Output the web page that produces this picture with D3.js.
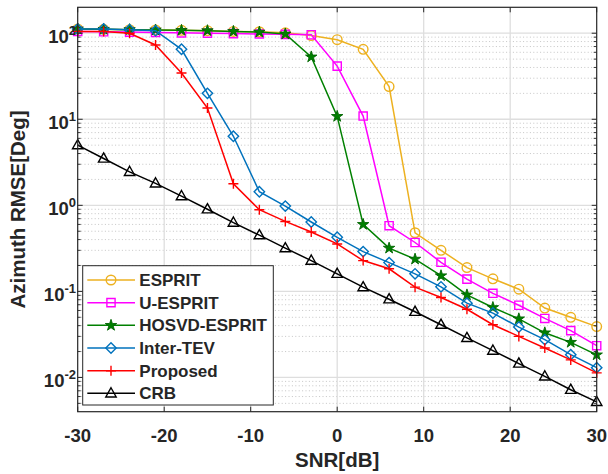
<!DOCTYPE html>
<html>
<head>
<meta charset="utf-8">
<script src="https://cdn.jsdelivr.net/npm/d3@7/dist/d3.min.js"></script>
<style>
  html, body { margin: 0; padding: 0; background: #fff; }
  svg { display: block; }
  text { font-family: "Liberation Sans", Arial, Helvetica, sans-serif; font-weight: bold; fill: #262626; }
</style>
</head>
<body>
<script>
// ---- data ----
const snr = [-30,-27,-24,-21,-18,-15,-12,-9,-6,-3,0,3,6,9,12,15,18,21,24,27,30];
const esprit   = [112,111,110,109,108,107,105,104,101,94,84,65,24,0.48,0.30,0.189,0.14,0.106,0.064,0.05,0.039];
const uEsprit  = [105,104,103,102,101,100,99,98,97,96,41.5,10.9,0.58,0.37,0.218,0.139,0.095,0.069,0.0485,0.035,0.0234];
const hosvd    = [112,111,110,109,108,107,105,103,98,53,10.8,0.60,0.318,0.237,0.152,0.091,0.065,0.048,0.033,0.0256,0.0183];
const interTev = [112,112,110,107,65,20,6.35,1.44,0.98,0.64,0.425,0.29,0.216,0.16,0.113,0.073,0.056,0.0385,0.0275,0.0184,0.013];
const proposed = [105,105,100,73,34.5,13.5,1.78,0.89,0.65,0.49,0.356,0.228,0.183,0.112,0.085,0.062,0.041,0.030,0.022,0.016,0.0113];
const crb      = [5.0,3.5,2.45,1.8,1.28,0.9,0.63,0.45,0.318,0.228,0.16,0.112,0.081,0.058,0.041,0.0288,0.0205,0.0145,0.0103,0.0072,0.0052];
const seriesNames = ["ESPRIT","U-ESPRIT","HOSVD-ESPRIT","Inter-TEV","Proposed","CRB"];
const xTicks = [-30,-20,-10,0,10,20,30];
const yTickExps = [-2,-1,0,1,2];

// ---- styles ----
const styles = [
  {color:"#EDB120", shape:"circle",   fill:"none"},
  {color:"#FF00FF", shape:"square",   fill:"none"},
  {color:"#008000", shape:"star",     fill:"#008000"},
  {color:"#0072BD", shape:"diamond",  fill:"none"},
  {color:"#FF0000", shape:"plus",     fill:"none"},
  {color:"#000000", shape:"triangle", fill:"none"}
];
const allSeries = [esprit, uEsprit, hosvd, interTev, proposed, crb];

const W = 608, H = 474;
const L = 77.7, R = 596.7, T = 7.3, B = 411.7;

const svg = d3.select("body").append("svg").attr("width", W).attr("height", H);
const x = d3.scaleLinear().domain([-30, 30]).range([L, R]);
const y = d3.scaleLog().domain([0.004, 200]).range([B, T]);

function markerPath(shape) {
  switch (shape) {
    case "circle": { const r = 4.8; return `M${r},0A${r},${r} 0 1,1 ${-r},0A${r},${r} 0 1,1 ${r},0Z`; }
    case "square": { const h = 4.1; return `M${-h},${-h}H${h}V${h}H${-h}Z`; }
    case "diamond": { const h = 5.2; return `M0,${-h}L${h},0L0,${h}L${-h},0Z`; }
    case "plus": { const h = 5; return `M${-h},0H${h}M0,${-h}V${h}`; }
    case "triangle": { return `M0,-5.6L5.2,3.6L-5.2,3.6Z`; }
    case "star": {
      const ro = 6, ri = ro * 0.382; let p = "";
      for (let i = 0; i < 10; i++) {
        const a = -Math.PI / 2 + i * Math.PI / 5;
        const r = i % 2 === 0 ? ro : ri;
        p += (i === 0 ? "M" : "L") + (r * Math.cos(a)).toFixed(2) + "," + (r * Math.sin(a)).toFixed(2);
      }
      return p + "Z";
    }
  }
}

// ---- grid ----
const grid = svg.append("g");
// minor y grid (dotted)
const minorVals = [];
for (let d = -3; d <= 2; d++) for (let m = 2; m <= 9; m++) {
  const v = m * Math.pow(10, d);
  if (v > 0.004 && v < 200) minorVals.push(v);
}
grid.selectAll("line.minor").data(minorVals).enter().append("line")
  .attr("x1", L).attr("x2", R).attr("y1", d => y(d)).attr("y2", d => y(d))
  .attr("stroke", "#b8b8b8").attr("stroke-width", 0.8).attr("stroke-dasharray", "1,2.4");
// major grid
const majorY = yTickExps.map(e => Math.pow(10, e));
grid.selectAll("line.majy").data(majorY).enter().append("line")
  .attr("x1", L).attr("x2", R).attr("y1", d => y(d)).attr("y2", d => y(d))
  .attr("stroke", "#dedede").attr("stroke-width", 1.3);
grid.selectAll("line.majx").data(xTicks.slice(1, -1)).enter().append("line")
  .attr("x1", d => x(d)).attr("x2", d => x(d)).attr("y1", T).attr("y2", B)
  .attr("stroke", "#dedede").attr("stroke-width", 1.3);

// ---- series ----
const line = d3.line().x((d, i) => x(snr[i])).y(d => y(d));
allSeries.forEach((s, k) => {
  const st = styles[k];
  const g = svg.append("g");
  g.append("path").datum(s).attr("d", line).attr("fill", "none")
    .attr("stroke", st.color).attr("stroke-width", 1.5);
  g.selectAll("path.m").data(s).enter().append("path")
    .attr("d", markerPath(st.shape))
    .attr("transform", (d, i) => `translate(${x(snr[i])},${y(d)})`)
    .attr("fill", st.fill).attr("stroke", st.shape === "star" ? "#006400" : st.color)
    .attr("stroke-width", st.shape === "star" ? 0.9 : 1.4);
});

// ---- axes box and ticks ----
const ax = svg.append("g").attr("stroke", "#262626").attr("fill", "none");
ax.append("rect").attr("x", L).attr("y", T).attr("width", R - L).attr("height", B - T).attr("stroke-width", 1.2);
xTicks.forEach(t => {
  ax.append("line").attr("x1", x(t)).attr("x2", x(t)).attr("y1", B).attr("y2", B - 5).attr("stroke-width", 1);
  ax.append("line").attr("x1", x(t)).attr("x2", x(t)).attr("y1", T).attr("y2", T + 5).attr("stroke-width", 1);
});
majorY.forEach(v => {
  ax.append("line").attr("x1", L).attr("x2", L + 5).attr("y1", y(v)).attr("y2", y(v)).attr("stroke-width", 1);
  ax.append("line").attr("x1", R).attr("x2", R - 5).attr("y1", y(v)).attr("y2", y(v)).attr("stroke-width", 1);
});
minorVals.forEach(v => {
  ax.append("line").attr("x1", L).attr("x2", L + 3).attr("y1", y(v)).attr("y2", y(v)).attr("stroke-width", 0.9);
  ax.append("line").attr("x1", R).attr("x2", R - 3).attr("y1", y(v)).attr("y2", y(v)).attr("stroke-width", 0.9);
});

// ---- tick labels ----
svg.selectAll("text.xt").data(xTicks).enter().append("text")
  .attr("x", d => x(d)).attr("y", 441.5).attr("text-anchor", "middle")
  .style("font-size", "18.5px").text(d => d);
yTickExps.forEach(e => {
  const t = svg.append("text").attr("x", 76).attr("y", y(Math.pow(10, e)) + 10)
    .attr("text-anchor", "end").style("font-size", "18.5px");
  t.append("tspan").text("10");
  t.append("tspan").attr("dy", -8.5).style("font-size", "13px").text(e);
});

// ---- axis labels ----
svg.append("text").attr("x", (L + R) / 2).attr("y", 467).attr("text-anchor", "middle")
  .style("font-size", "20.5px").text("SNR[dB]");
svg.append("text").attr("transform", `translate(24.5,${(T + B) / 2}) rotate(-90)`)
  .attr("text-anchor", "middle").style("font-size", "20.5px").text("Azimuth RMSE[Deg]");

// ---- legend ----
const lg = svg.append("g");
lg.append("rect").attr("x", 82.7).attr("y", 265.7).attr("width", 273.3 - 82.7).attr("height", 405 - 265.7)
  .attr("fill", "#fff").attr("stroke", "#262626").attr("stroke-width", 1);
seriesNames.forEach((name, k) => {
  const st = styles[k];
  const cy = 280 + k * 22.67;
  lg.append("line").attr("x1", 87.3).attr("x2", 135).attr("y1", cy).attr("y2", cy)
    .attr("stroke", st.color).attr("stroke-width", 1.5);
  lg.append("path").attr("d", markerPath(st.shape)).attr("transform", `translate(111,${cy})`)
    .attr("fill", st.fill).attr("stroke", st.shape === "star" ? "#006400" : st.color)
    .attr("stroke-width", st.shape === "star" ? 0.9 : 1.4);
  lg.append("text").attr("x", 139.3).attr("y", cy + 6).style("font-size", "17px").text(name);
});
</script>
</body>
</html>
